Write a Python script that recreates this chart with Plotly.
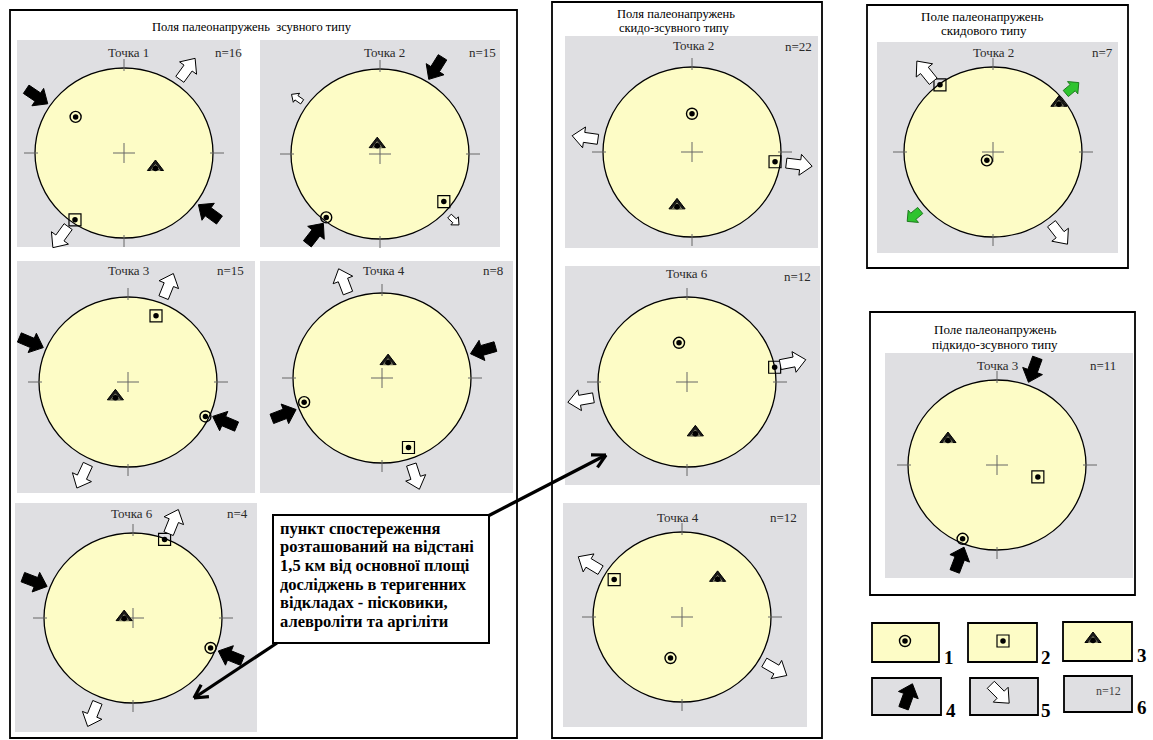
import numpy as np
import plotly.graph_objects as go

# ---------------- data ----------------
panel_title = ["Точка 1", "Точка 2", "Точка 3", "Точка 4", "Точка 6",
               "Точка 2", "Точка 6", "Точка 4", "Точка 2", "Точка 3"]
panel_n = [16, 15, 15, 8, 4, 22, 12, 12, 7, 11]

# symbol 1 (circle with dot): azimuth (deg) and relative distance from the centre
s1_az = [308, 219, 115, 252, 112, 0, 349, 195, 215, 204]
s1_r = [0.69, 0.96, 0.96, 0.92, 0.94, 0.45, 0.47, 0.50, 0.12, 0.95]
# symbol 2 (square with dot)
s2_az = [215, 128, 22, 160, 21, 97, 80, 300, 323, 107]
s2_r = [0.96, 0.91, 0.84, 0.87, 0.99, 0.94, 1.00, 0.88, 0.99, 0.48]
# symbol 3 (triangle)
s3_az = [115, 345, 220, 19, 276, 195, 171, 41, 52, 299]
s3_r = [0.39, 0.12, 0.22, 0.21, 0.10, 0.65, 0.60, 0.61, 0.94, 0.63]

# stress arrows: panel index, azimuth, kind (c = compression, t = tension, g = green), size
arr_panel = [0, 0, 0, 0, 1, 1, 1, 1, 2, 2, 2, 2, 3, 3, 3, 3, 4, 4, 4, 4,
             5, 5, 6, 6, 7, 7, 8, 8, 8, 8, 9, 9]
arr_az = [304, 126, 36, 216, 32, 218, 305, 133, 293, 113, 22, 205, 74, 249, 339, 162,
          291, 112, 22, 202, 278, 97, 79, 260, 301, 120, 321, 142, 50, 230, 20, 201]
arr_kind = ["c", "c", "t", "t", "c", "c", "t", "t", "c", "c", "t", "t", "c", "c", "t", "t",
            "c", "c", "t", "t", "t", "t", "t", "t", "t", "t", "t", "t", "g", "g", "c", "c"]
arr_size = ["L", "L", "L", "L", "L", "L", "S", "S", "L", "L", "L", "L", "L", "L", "L", "L",
            "L", "L", "L", "L", "L", "L", "L", "L", "L", "L", "L", "L", "G", "G", "L", "L"]

frame_titles = [["Поля палеонапружень  зсувного типу"],
                ["Поля палеонапружень", "скидо-зсувного типу"],
                ["Поле палеонапружень", "скидового типу"],
                ["Поле палеонапружень", "підкидо-зсувного типу"]]

box_lines = ["пункт спостереження", "розташований на відстані",
             "1,5 км від основної площі", "досліджень в теригенних",
             "відкладах - пісковики,", "алевроліти та аргіліти"]

legend_labels = ["1", "2", "3", "4", "5", "6"]
legend_n_text = "n=12"

# ---------------- layout geometry ----------------
W, H = 1153, 740
RX, RY = 89, 85
centers = [(124, 153), (380, 154), (128, 382), (382, 378), (133, 618),
           (692, 152), (687, 382), (682, 617), (993, 152), (997, 465)]
panels = [(17, 40, 240, 247), (260, 40, 500, 247), (17, 261, 255, 493), (260, 261, 513, 493),
          (15, 503, 257, 732), (565, 36, 818, 248), (565, 266, 820, 485), (563, 503, 807, 727),
          (877, 42, 1118, 253), (885, 353, 1133, 578)]
title_pos = [(128, 52), (384, 52), (128, 270), (384, 270), (132, 513),
             (693, 45), (687, 273), (678, 517), (993, 52), (997, 365)]
n_pos = [(228, 52), (482, 52), (230, 270), (493, 270), (237, 513),
         (798, 46), (797, 276), (783, 517), (1102, 52), (1103, 365)]
frames = [(10, 10, 517, 738), (552, 2, 822, 738), (867, 5, 1128, 268), (870, 312, 1135, 595)]
frame_title_pos = [[(252, 27)], [(676, 14), (674, 28)], [(982, 16), (984, 30)],
                   [(995, 329), (995, 344)]]
frame_title_size = [12.5, 12.5, 13, 13]

GRAY = "#dfdfe2"
YELLOW = "#fdfcc6"
SERIF = "Liberation Serif"

fig = go.Figure()
shapes = []
annotations = []

# frames
for (x0, y0, x1, y1) in frames:
    shapes.append(dict(type="rect", x0=x0, y0=y0, x1=x1, y1=y1, xref="x", yref="y",
                       line=dict(color="black", width=1.8), fillcolor="white", layer="below"))
for fi, lines in enumerate(frame_titles):
    for li, txt in enumerate(lines):
        x, y = frame_title_pos[fi][li]
        annotations.append(dict(x=x, y=y, xref="x", yref="y", text=txt, showarrow=False,
                                font=dict(family=SERIF, size=frame_title_size[fi], color="black"),
                                xanchor="center", yanchor="middle", borderpad=0))

# panels, circles, ticks
for i, (cx, cy) in enumerate(centers):
    x0, y0, x1, y1 = panels[i]
    shapes.append(dict(type="rect", x0=x0, y0=y0, x1=x1, y1=y1, xref="x", yref="y",
                       line=dict(width=0), fillcolor=GRAY, layer="below"))
    shapes.append(dict(type="circle", x0=cx - RX, y0=cy - RY, x1=cx + RX, y1=cy + RY,
                       xref="x", yref="y", line=dict(color="black", width=1.3),
                       fillcolor=YELLOW, layer="below"))
    tick = dict(color="#666", width=1)
    for (ax0, ay0, ax1, ay1) in [(cx, cy - RY - 9, cx, cy - RY + 3), (cx, cy + RY - 3, cx, cy + RY + 9),
                                 (cx - RX - 11, cy, cx - RX + 3, cy), (cx + RX - 3, cy, cx + RX + 11, cy),
                                 (cx - 11, cy, cx + 11, cy), (cx, cy - 10, cx, cy + 10)]:
        shapes.append(dict(type="line", x0=ax0, y0=ay0, x1=ax1, y1=ay1, xref="x", yref="y",
                           line=tick, layer="below"))
    tx, ty = title_pos[i]
    annotations.append(dict(x=tx, y=ty, xref="x", yref="y", text=panel_title[i], showarrow=False,
                            font=dict(family=SERIF, size=13, color="#2a2a2a")))
    nx_, ny_ = n_pos[i]
    annotations.append(dict(x=nx_, y=ny_, xref="x", yref="y", text=f"n={panel_n[i]}", showarrow=False,
                            font=dict(family=SERIF, size=13, color="#2a2a2a")))


def ell_point(i, az, r):
    cx, cy = centers[i]
    a = np.radians(az)
    return cx + r * RX * np.sin(a), cy - r * RY * np.cos(a)


def sym_xy(az_list, r_list):
    xs, ys = [], []
    for i, (az, r) in enumerate(zip(az_list, r_list)):
        x, y = ell_point(i, az, r)
        xs.append(x)
        ys.append(y)
    return xs, ys


x1s, y1s = sym_xy(s1_az, s1_r)
x2s, y2s = sym_xy(s2_az, s2_r)
x3s, y3s = sym_xy(s3_az, s3_r)

# legend symbol positions (layout)
leg_sym = [(905, 641), (1003, 641), (1093, 639)]
x1s.append(leg_sym[0][0]); y1s.append(leg_sym[0][1])
x2s.append(leg_sym[1][0]); y2s.append(leg_sym[1][1])
x3s.append(leg_sym[2][0]); y3s.append(leg_sym[2][1])

fig.add_trace(go.Scatter(x=x1s, y=y1s, mode="markers", hoverinfo="skip",
                         marker=dict(symbol="circle-open", size=11, color="black", line=dict(width=1.4))))
fig.add_trace(go.Scatter(x=x2s, y=y2s, mode="markers", hoverinfo="skip",
                         marker=dict(symbol="square-open", size=12, color="black", line=dict(width=1.2))))
fig.add_trace(go.Scatter(x=x3s, y=y3s, mode="markers", hoverinfo="skip",
                         marker=dict(symbol="triangle-up", size=14, color="#1a1a1a",
                                     line=dict(width=1, color="black"))))
fig.add_trace(go.Scatter(x=x3s, y=[v + 1.5 for v in y3s], mode="markers", hoverinfo="skip",
                         marker=dict(symbol="triangle-up-open", size=8, color="#8a8a70",
                                     line=dict(width=1))))
fig.add_trace(go.Scatter(x=x1s + x2s + x3s, y=y1s + y2s + [v + 1.5 for v in y3s], mode="markers",
                         hoverinfo="skip", marker=dict(symbol="circle", size=5.5, color="black")))

# arrows
SIZES = {"L": (26, 5, 10.5, 12), "S": (13, 2.6, 5.5, 6), "G": (17, 4, 8, 8)}
GAP = {"c": 3, "t": 6, "g": 6}


def arrow_poly(xc, yc, dx, dy, L, sw, hw, hl):
    nx, ny = -dy, dx
    tipx, tipy = xc + dx * L / 2, yc + dy * L / 2
    tx, ty = xc - dx * L / 2, yc - dy * L / 2
    kx, ky = tipx - dx * hl, tipy - dy * hl
    pts = [(tx + nx * sw, ty + ny * sw), (kx + nx * sw, ky + ny * sw), (kx + nx * hw, ky + ny * hw),
           (tipx, tipy), (kx - nx * hw, ky - ny * hw), (kx - nx * sw, ky - ny * sw),
           (tx - nx * sw, ty - ny * sw), (tx + nx * sw, ty + ny * sw)]
    return [p[0] for p in pts], [p[1] for p in pts]


polys = {"c": ([], []), "t": ([], []), "g": ([], [])}
for p, az, kind, size in zip(arr_panel, arr_az, arr_kind, arr_size):
    L, sw, hw, hl = SIZES[size]
    ex, ey = ell_point(p, az, 1.0)
    a = np.radians(az)
    ux, uy = np.sin(a), -np.cos(a)
    off = GAP[kind] + L / 2
    xc, yc = ex + ux * off, ey + uy * off
    d = (-ux, -uy) if kind == "c" else (ux, uy)
    px, py = arrow_poly(xc, yc, d[0], d[1], L, sw, hw, hl)
    polys[kind][0].extend(px + [None])
    polys[kind][1].extend(py + [None])

# legend arrows (layout positions, directions in degrees clockwise from up)
for (xc, yc, ang, kind) in [(908, 696, 20, "c"), (1000, 694, 135, "t")]:
    a = np.radians(ang)
    px, py = arrow_poly(xc, yc, np.sin(a), -np.cos(a), *SIZES["L"])
    polys[kind][0].extend(px + [None])
    polys[kind][1].extend(py + [None])

style = {"c": ("black", "black"), "t": ("white", "black"), "g": ("#2fc42f", "#1f7a1f")}
for kind, (xs, ys) in polys.items():
    fill, line = style[kind]
    fig.add_trace(go.Scatter(x=xs, y=ys, mode="lines", fill="toself", fillcolor=fill,
                             line=dict(color=line, width=1), hoverinfo="skip"))

# text box with connector arrows
shapes.append(dict(type="rect", x0=273, y0=515, x1=489, y1=643, xref="x", yref="y",
                   line=dict(color="black", width=2), fillcolor="white", layer="below"))
for li, txt in enumerate(box_lines):
    annotations.append(dict(x=278, y=528 + li * 18.7, xref="x", yref="y", text=f"<b>{txt}</b>",
                            showarrow=False, xanchor="left", yanchor="middle",
                            font=dict(family=SERIF, size=16.5, color="black")))

conn_x, conn_y = [], []
for (sx, sy, ex, ey) in [(488, 516, 606, 455), (277, 643, 194, 698)]:
    conn_x += [sx, ex, None]
    conn_y += [sy, ey, None]
    vx, vy = ex - sx, ey - sy
    n = np.hypot(vx, vy)
    vx, vy = vx / n, vy / n
    for s in (1, -1):
        a = np.radians(28 * s)
        bx = -(vx * np.cos(a) - vy * np.sin(a))
        by = -(vx * np.sin(a) + vy * np.cos(a))
        conn_x += [ex, ex + bx * 15, None]
        conn_y += [ey, ey + by * 15, None]
fig.add_trace(go.Scatter(x=conn_x, y=conn_y, mode="lines", line=dict(color="black", width=3.2),
                         hoverinfo="skip"))

# legend boxes
leg_boxes = [(872, 623, 939, 662, YELLOW), (968, 623, 1037, 662, YELLOW), (1063, 622, 1132, 661, YELLOW),
             (872, 678, 941, 715, GRAY), (970, 678, 1038, 715, GRAY), (1064, 676, 1132, 712, GRAY)]
leg_label_pos = [(949, 657), (1046, 657), (1142, 655), (951, 710), (1046, 710), (1142, 707)]
for (x0, y0, x1, y1, col) in leg_boxes:
    shapes.append(dict(type="rect", x0=x0, y0=y0, x1=x1, y1=y1, xref="x", yref="y",
                       line=dict(color="black", width=1.8), fillcolor=col, layer="below"))
for lab, (x, y) in zip(legend_labels, leg_label_pos):
    annotations.append(dict(x=x, y=y, xref="x", yref="y", text=f"<b>{lab}</b>", showarrow=False,
                            font=dict(family=SERIF, size=19, color="black")))
annotations.append(dict(x=1108, y=691, xref="x", yref="y", text=legend_n_text, showarrow=False,
                        font=dict(family=SERIF, size=12, color="#444")))

fig.update_layout(
    width=W, height=H, margin=dict(l=0, r=0, t=0, b=0),
    paper_bgcolor="white", plot_bgcolor="white", showlegend=False,
    xaxis=dict(range=[0, W], visible=False, fixedrange=True),
    yaxis=dict(range=[H, 0], visible=False, fixedrange=True),
    shapes=shapes, annotations=annotations,
)

fig.write_html("out.html", config={"displayModeBar": False, "staticPlot": True},
               post_script="document.body.style.margin='0';")
